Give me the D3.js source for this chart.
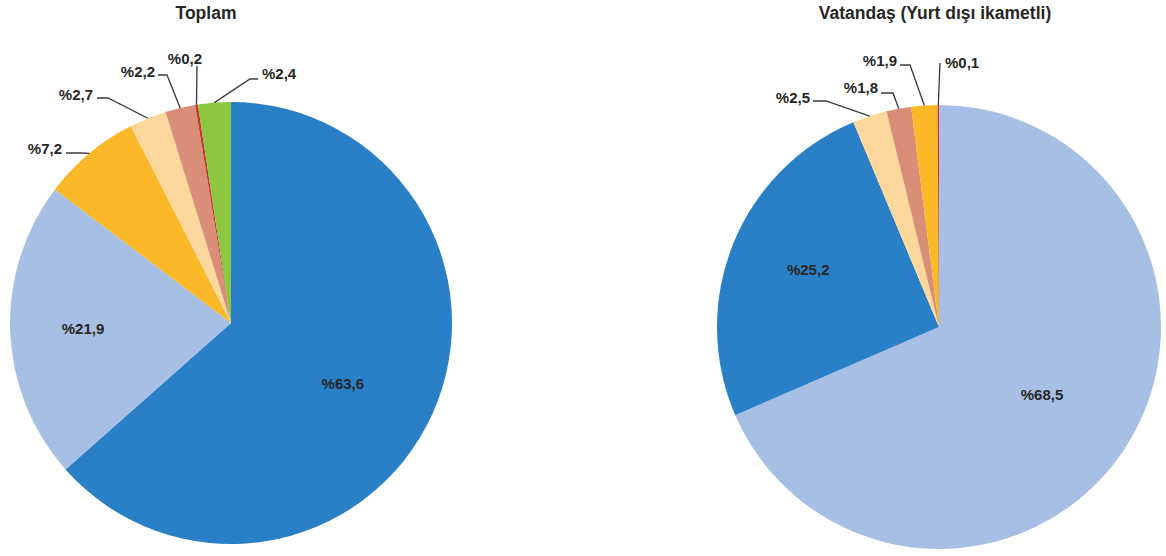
<!DOCTYPE html>
<html>
<head>
<meta charset="utf-8">
<script src="https://cdn.jsdelivr.net/npm/d3@7"></script>
<style>
  body { margin: 0; background: #fff; }
  svg text { font-family: "Liberation Sans", Arial, sans-serif; font-weight: bold; fill: #262626; }
</style>
</head>
<body>
<div id="container"></div>
<script>
/* DATA */
const toplamCategories = ["K1", "K2", "K3", "K4", "K5", "K6", "K7"];
const toplamValues = [63.6, 21.9, 7.2, 2.7, 2.2, 0.2, 2.4];
const toplamLabels = ["%63,6", "%21,9", "%7,2", "%2,7", "%2,2", "%0,2", "%2,4"];

const vatandasCategories = ["K2", "K1", "K4", "K5", "K3", "K6"];
const vatandasValues = [68.5, 25.2, 2.5, 1.8, 1.9, 0.1];
const vatandasLabels = ["%68,5", "%25,2", "%2,5", "%1,8", "%1,9", "%0,1"];

const colorCategories = ["K1", "K2", "K3", "K4", "K5", "K6", "K7"];
const colorRange = ["#2A80C6", "#A7BFE4", "#FBB829", "#FDD89C", "#DA8E77", "#C0392B", "#8DC63F"];

/* LAYOUT (label placement, relative to pie centre) */
const toplamLayout = [
  { k: 0.58, off: [-5, 8] },
  { k: 0.67 },
  { text: [-169, -174], anchor: "end", line: [[-165, -170], [-151, -170]] },
  { text: [-138, -228], anchor: "end", line: [[-134, -225], [-123, -225]] },
  { text: [-76, -251], anchor: "end", line: [[-73, -248], [-64, -248]] },
  { text: [-29, -264], anchor: "end", line: [[-34, -257]] },
  { text: [31, -249], anchor: "start", line: [[27, -244], [19, -244]] }
];
const vatandasLayout = [
  { k: 0.555 },
  { k: 0.645, off: [2, -4] },
  { text: [-129, -229], anchor: "end", line: [[-126, -226], [-113, -226]] },
  { text: [-61, -239], anchor: "end", line: [[-58, -234], [-46, -234]] },
  { text: [-42, -266], anchor: "end", line: [[-39, -262], [-29, -262]] },
  { text: [6, -264], anchor: "start", line: [[1, -264]] }
];

const width = 1166, height = 556;

const color = d3.scaleOrdinal().domain(colorCategories).range(colorRange);

const svg = d3.select("#container")
  .append("svg")
  .attr("width", width)
  .attr("height", height);

const charts = [
  { title: "Toplam", titleX: 206, cats: toplamCategories, vals: toplamValues, labels: toplamLabels, layout: toplamLayout, cx: 231, cy: 323, r: 221 },
  { title: "Vatandaş (Yurt dışı ikametli)", titleX: 935, cats: vatandasCategories, vals: vatandasValues, labels: vatandasLabels, layout: vatandasLayout, cx: 939, cy: 327, r: 222 }
];

const pie = d3.pie().sort(null).value(d => d.value);

charts.forEach(c => {
  const data = c.cats.map((cat, i) => ({ cat, value: c.vals[i], label: c.labels[i], layout: c.layout[i] }));
  const arcs = pie(data);
  const arcGen = d3.arc().innerRadius(0).outerRadius(c.r);

  svg.append("text")
    .attr("x", c.titleX)
    .attr("y", 19)
    .attr("text-anchor", "middle")
    .style("font-size", "17.5px")
    .text(c.title);

  const g = svg.append("g").attr("transform", `translate(${c.cx},${c.cy})`);

  g.selectAll("path.slice")
    .data(arcs)
    .join("path")
    .attr("class", "slice")
    .attr("fill", d => color(d.data.cat))
    .attr("d", arcGen);

  arcs.forEach(d => {
    const L = d.data.layout;
    const mid = (d.startAngle + d.endAngle) / 2;
    if (L.k !== undefined) {
      const rr = c.r * L.k;
      const off = L.off || [0, 0];
      g.append("text")
        .attr("x", rr * Math.sin(mid) + off[0])
        .attr("y", -rr * Math.cos(mid) + off[1])
        .attr("dy", "0.35em")
        .attr("text-anchor", "middle")
        .style("font-size", "15px")
        .text(d.data.label);
    } else {
      const edge = [c.r * Math.sin(mid), -c.r * Math.cos(mid)];
      g.append("path")
        .attr("fill", "none")
        .attr("stroke", "#3a3a3a")
        .attr("stroke-width", 1.3)
        .attr("d", d3.line()(L.line.concat([edge])));
      g.append("text")
        .attr("x", L.text[0])
        .attr("y", L.text[1])
        .attr("dy", "0.35em")
        .attr("text-anchor", L.anchor)
        .style("font-size", "15px")
        .text(d.data.label);
    }
  });
});
</script>
</body>
</html>
